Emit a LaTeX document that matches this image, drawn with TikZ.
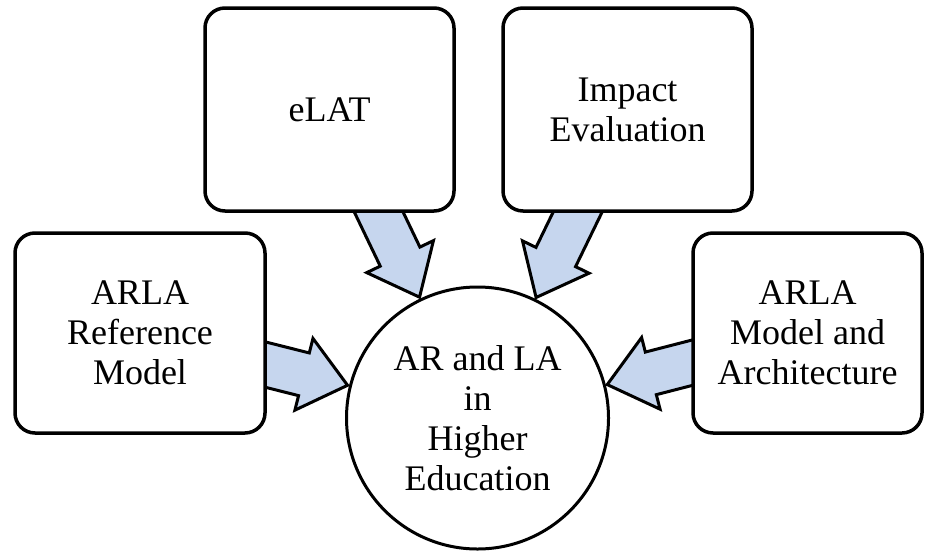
\documentclass[tikz,border=0pt]{standalone}
\usepackage{fontspec}
\setmainfont{Liberation Serif}
\usetikzlibrary{calc,backgrounds}
\definecolor{arrowfill}{HTML}{C6D6EE}
\tikzset{
  label text/.style={align=center, font=\fontsize{36}{40}\selectfont},
  panel/.style={label text, draw, line width=3.5pt, rounded corners=20pt, fill=white, inner sep=0pt},
  hub/.style={label text, circle, draw, line width=3pt, fill=white, minimum size=262pt, inner sep=0pt},
  flow/.style={draw, line width=3pt, fill=arrowfill, line join=miter},
}
% block arrow from an outer panel towards the hub, tip resting on the circle
\newcommand\convarrow[2]{%
  \coordinate (tp) at ($(#2.center)!134pt!(#1.center)$);
  \coordinate (bs) at ($(#2.center)!179pt!(#1.center)$);
  \coordinate (tl) at ($(#2.center)!270pt!(#1.center)$);
  \draw[flow] ($(tl)!22pt!90:(tp)$) -- ($(bs)!22pt!90:(tp)$) -- ($(bs)!37pt!90:(tp)$)
    -- (tp) -- ($(bs)!37pt!-90:(tp)$) -- ($(bs)!22pt!-90:(tp)$) -- ($(tl)!22pt!-90:(tp)$) -- cycle;
}
\begin{document}
\begin{tikzpicture}[x=1pt,y=-1pt]
  \useasboundingbox (0,0) rectangle (936,557);
  \node[hub] (centre) at (477.5,418) {AR and LA\\in\\Higher\\Education};
  \node[panel, minimum width=249pt, minimum height=203pt] (elat) at (329.5,109.5) {eLAT};
  \node[panel, minimum width=249pt, minimum height=203pt] (impact) at (627.5,109.5) {Impact\\Evaluation};
  \node[panel, minimum width=250pt, minimum height=200pt] (refmodel) at (140,333) {ARLA\\Reference\\Model};
  \node[panel, minimum width=229pt, minimum height=200pt] (archmodel) at (807.5,333) {ARLA\\Model and\\Architecture};
  \begin{scope}[on background layer]
    \convarrow{elat}{centre}
    \convarrow{impact}{centre}
    \convarrow{refmodel}{centre}
    \convarrow{archmodel}{centre}
  \end{scope}
\end{tikzpicture}
\end{document}
